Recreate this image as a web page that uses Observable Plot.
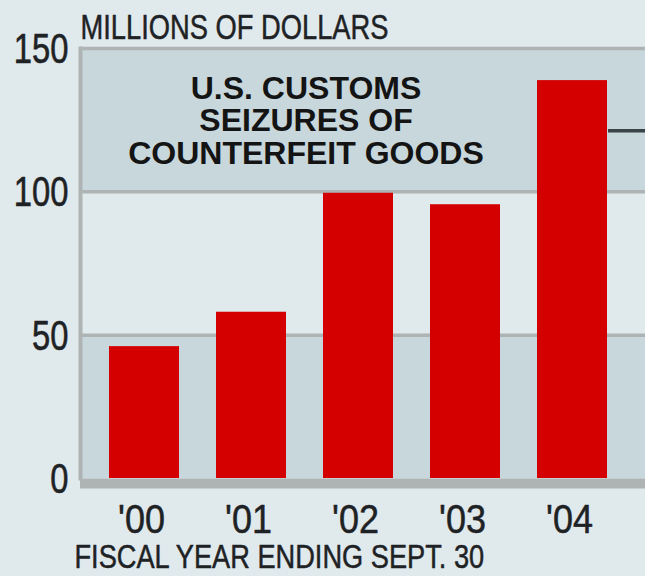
<!DOCTYPE html>
<html>
<head>
<meta charset="utf-8">
<script src="https://cdn.jsdelivr.net/npm/d3@7"></script>
<script src="https://cdn.jsdelivr.net/npm/@observablehq/plot@0.6"></script>
<style>
  html, body { margin: 0; padding: 0; background: #e0e9ec; }
  #chart svg { display: block; }
</style>
</head>
<body>
<div id="chart"></div>
<script>
// Data
const years = ["'00", "'01", "'02", "'03", "'04"];
const seizures = [46, 58, 99.5, 95.5, 138.8]; // millions of dollars
const yTicks = [0, 50, 100, 150];
const bandLow = [0, 100];   // darker bands start
const bandSpan = 50;
const titleText = "U.S. CUSTOMS\nSEIZURES OF\nCOUNTERFEIT GOODS";
const yLabelText = "MILLIONS OF DOLLARS";
const xLabelText = "FISCAL YEAR ENDING SEPT. 30";
const leaderValue = 122;

const data = years.map((y, i) => ({year: y, value: seizures[i]}));
const bands = bandLow.map(b => ({y1: b, y2: b + bandSpan}));

const dark = "#c8d7dc";
const light = "#e0e9ec";
const gray = "#aeb4b4";
const red = "#d40000";
const ink = "#1e2224";
const font = "Liberation Sans, Arial, sans-serif";

const chart = Plot.plot({
  width: 645,
  height: 576,
  marginLeft: 80,
  marginRight: 0,
  marginTop: 48,
  marginBottom: 98,
  style: {background: light, color: ink},
  x: {domain: years, range: [72, 644], padding: 0.345, axis: null},
  y: {domain: [0, 150], axis: null},
  marks: [
    Plot.rect(bands, {y1: "y1", y2: "y2", fill: dark}),
    Plot.ruleY([50, 100, 150], {stroke: gray, strokeWidth: 3.5}),
    Plot.barY(data, {x: "year", y: "value", fill: red}),
    Plot.ruleY([0], {stroke: gray, strokeWidth: 10, dy: 5}),
    Plot.frame({anchor: "left", stroke: gray, strokeWidth: 4}),
    Plot.ruleY([leaderValue], {stroke: "#3a4448", strokeWidth: 3.5, insetLeft: 528, dy: 2}),
    // y tick labels
    Plot.text(yTicks, {
      y: d => d, text: d => String(d), frameAnchor: "left", dx: -12, dy: 1,
      lineAnchor: "middle", textAnchor: "end", fontSize: 42, fontFamily: font, fill: ink,
      stroke: ink, strokeWidth: 0.6, ariaDescription: "cond78"
    }),
    // x tick labels
    Plot.text(years, {
      x: d => d, text: d => d, frameAnchor: "bottom", dy: 42, dx: -3,
      lineAnchor: "middle", fontSize: 40, fontFamily: font, fill: ink,
      stroke: ink, strokeWidth: 0.5, ariaDescription: "cond90"
    }),
    // title in the top band
    Plot.text([titleText], {
      y: 124, frameAnchor: "middle", dx: -57, dy: -2, text: d => d, lineAnchor: "middle",
      fontSize: 32, fontWeight: "bold", fontFamily: font, lineHeight: 1.02, fill: "#141414"
    }),
    // axis labels
    Plot.text([yLabelText], {
      frameAnchor: "top-left", dy: -21, text: d => d, textAnchor: "start", lineAnchor: "middle",
      fontSize: 35, fontFamily: font, fill: ink, stroke: ink, strokeWidth: 0.5,
      ariaDescription: "cond78"
    }),
    Plot.text([xLabelText], {
      frameAnchor: "bottom-left", dx: -6, dy: 79, text: d => d, textAnchor: "start", lineAnchor: "middle",
      fontSize: 34, fontFamily: font, fill: ink, stroke: ink, strokeWidth: 0.5,
      ariaDescription: "cond80"
    })
  ]
});
document.getElementById("chart").appendChild(chart);

// Condense the narrow-style labels (the original uses a condensed face)
const condense = (tag, k) => {
  chart.querySelectorAll(`g[aria-description="${tag}"] text`).forEach(t => {
    let len = t.getComputedTextLength();
    if (!(len > 0)) len = t.getBBox().width;
    if (len > 0) {
      t.setAttribute("textLength", (len * k).toFixed(1));
      t.setAttribute("lengthAdjust", "spacingAndGlyphs");
    }
  });
};
condense("cond78", 0.78);
condense("cond80", 0.8);
condense("cond90", 0.9);
</script>
</body>
</html>
